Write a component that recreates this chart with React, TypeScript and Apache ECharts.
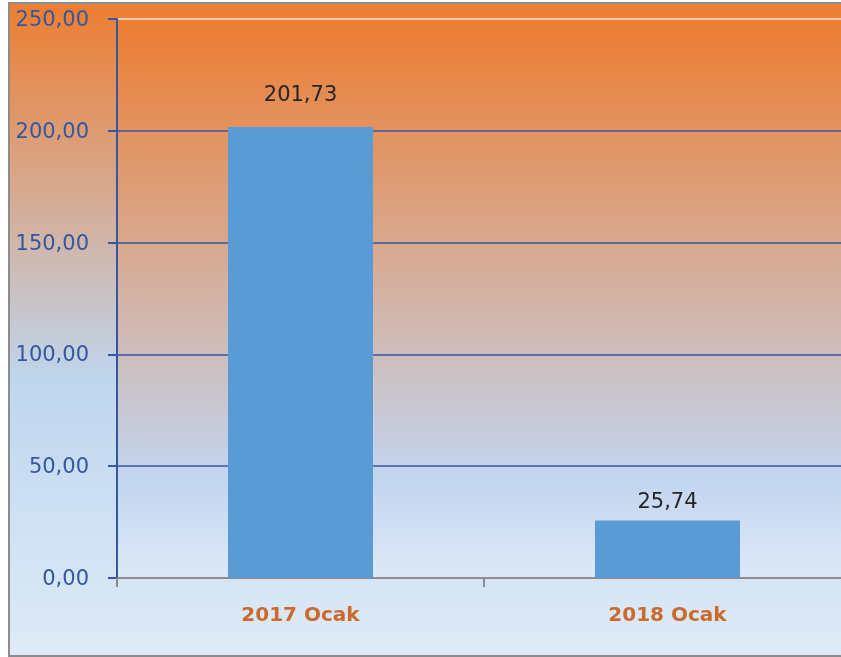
import React, { useEffect, useRef } from "react";
import * as echarts from "echarts";

const categories = ["2017 Ocak", "2018 Ocak"];
const values = [201.73, 25.74];
const labelDistances = [22, 9];
const yTicks = [0, 50, 100, 150, 200, 250];

const fmt = (v: number) => v.toFixed(2).replace(".", ",");

export default function App() {
  const ref = useRef<HTMLDivElement>(null);
  useEffect(() => {
    if (!ref.current) return;
    const chart = echarts.init(ref.current, undefined, { renderer: "svg" });
    const font = "DejaVu Sans";
    chart.setOption({
      animation: false,
      graphic: [
        {
          type: "rect",
          z: -10,
          silent: true,
          shape: { x: 9, y: 3, width: 900, height: 653 },
          style: {
            fill: new echarts.graphic.LinearGradient(0, 0, 0, 1, [
              { offset: 0, color: "#ED7D31" },
              { offset: 0.58, color: "#BFD6EF" },
              { offset: 1, color: "#DEEBF7" },
            ]),
            stroke: "#8C8C8C",
            lineWidth: 2,
          },
        },
      ],
      grid: {
        left: 117,
        top: 19,
        bottom: 79,
        right: 9,
        show: true,
        borderWidth: 0,
        backgroundColor: new echarts.graphic.LinearGradient(0, 0, 0, 1, [
          { offset: 0, color: "#ED7D31" },
          { offset: 0.82, color: "#C2D5EF" },
          { offset: 1, color: "#DDE9F7" },
        ]),
      },
      xAxis: {
        type: "category",
        data: categories,
        axisLine: { lineStyle: { color: "#8C8C8C", width: 2 } },
        axisTick: { show: true, length: 9, lineStyle: { color: "#8C8C8C", width: 2 } },
        axisLabel: {
          margin: 26,
          color: "#CC6A2E",
          fontFamily: font,
          fontWeight: "bold",
          fontSize: 20,
        },
      },
      yAxis: {
        type: "value",
        min: 0,
        max: 250,
        interval: 50,
        axisLine: { show: true, lineStyle: { color: "#34579E", width: 2 } },
        axisTick: { show: true, length: 9, lineStyle: { color: "#34579E", width: 2 } },
        axisLabel: {
          margin: 28,
          color: "#34579E",
          fontFamily: font,
          fontSize: 21,
          formatter: (v: number) => fmt(v),
        },
        splitLine: {
          show: true,
          lineStyle: {
            width: 1.5,
            color: yTicks.map((t, i) => (i === yTicks.length - 1 ? "#E6E0DA" : "#34579E")),
          },
        },
      },
      series: [
        {
          type: "bar",
          barWidth: 145,
          itemStyle: { color: "#5B9BD5" },
          data: values.map((v, i) => ({
            value: v,
            label: { distance: labelDistances[i] },
          })),
          label: {
            show: true,
            position: "top",
            color: "#262626",
            fontFamily: font,
            fontSize: 21,
            formatter: (p: any) => fmt(p.value),
          },
        },
      ],
    });
    return () => chart.dispose();
  }, []);
  return (
    <div
      style={{
        position: "fixed",
        left: 0,
        top: 0,
        width: 841,
        height: 657,
        overflow: "hidden",
      }}
    >
      <div ref={ref} style={{ width: 860, height: 657 }} />
    </div>
  );
}
